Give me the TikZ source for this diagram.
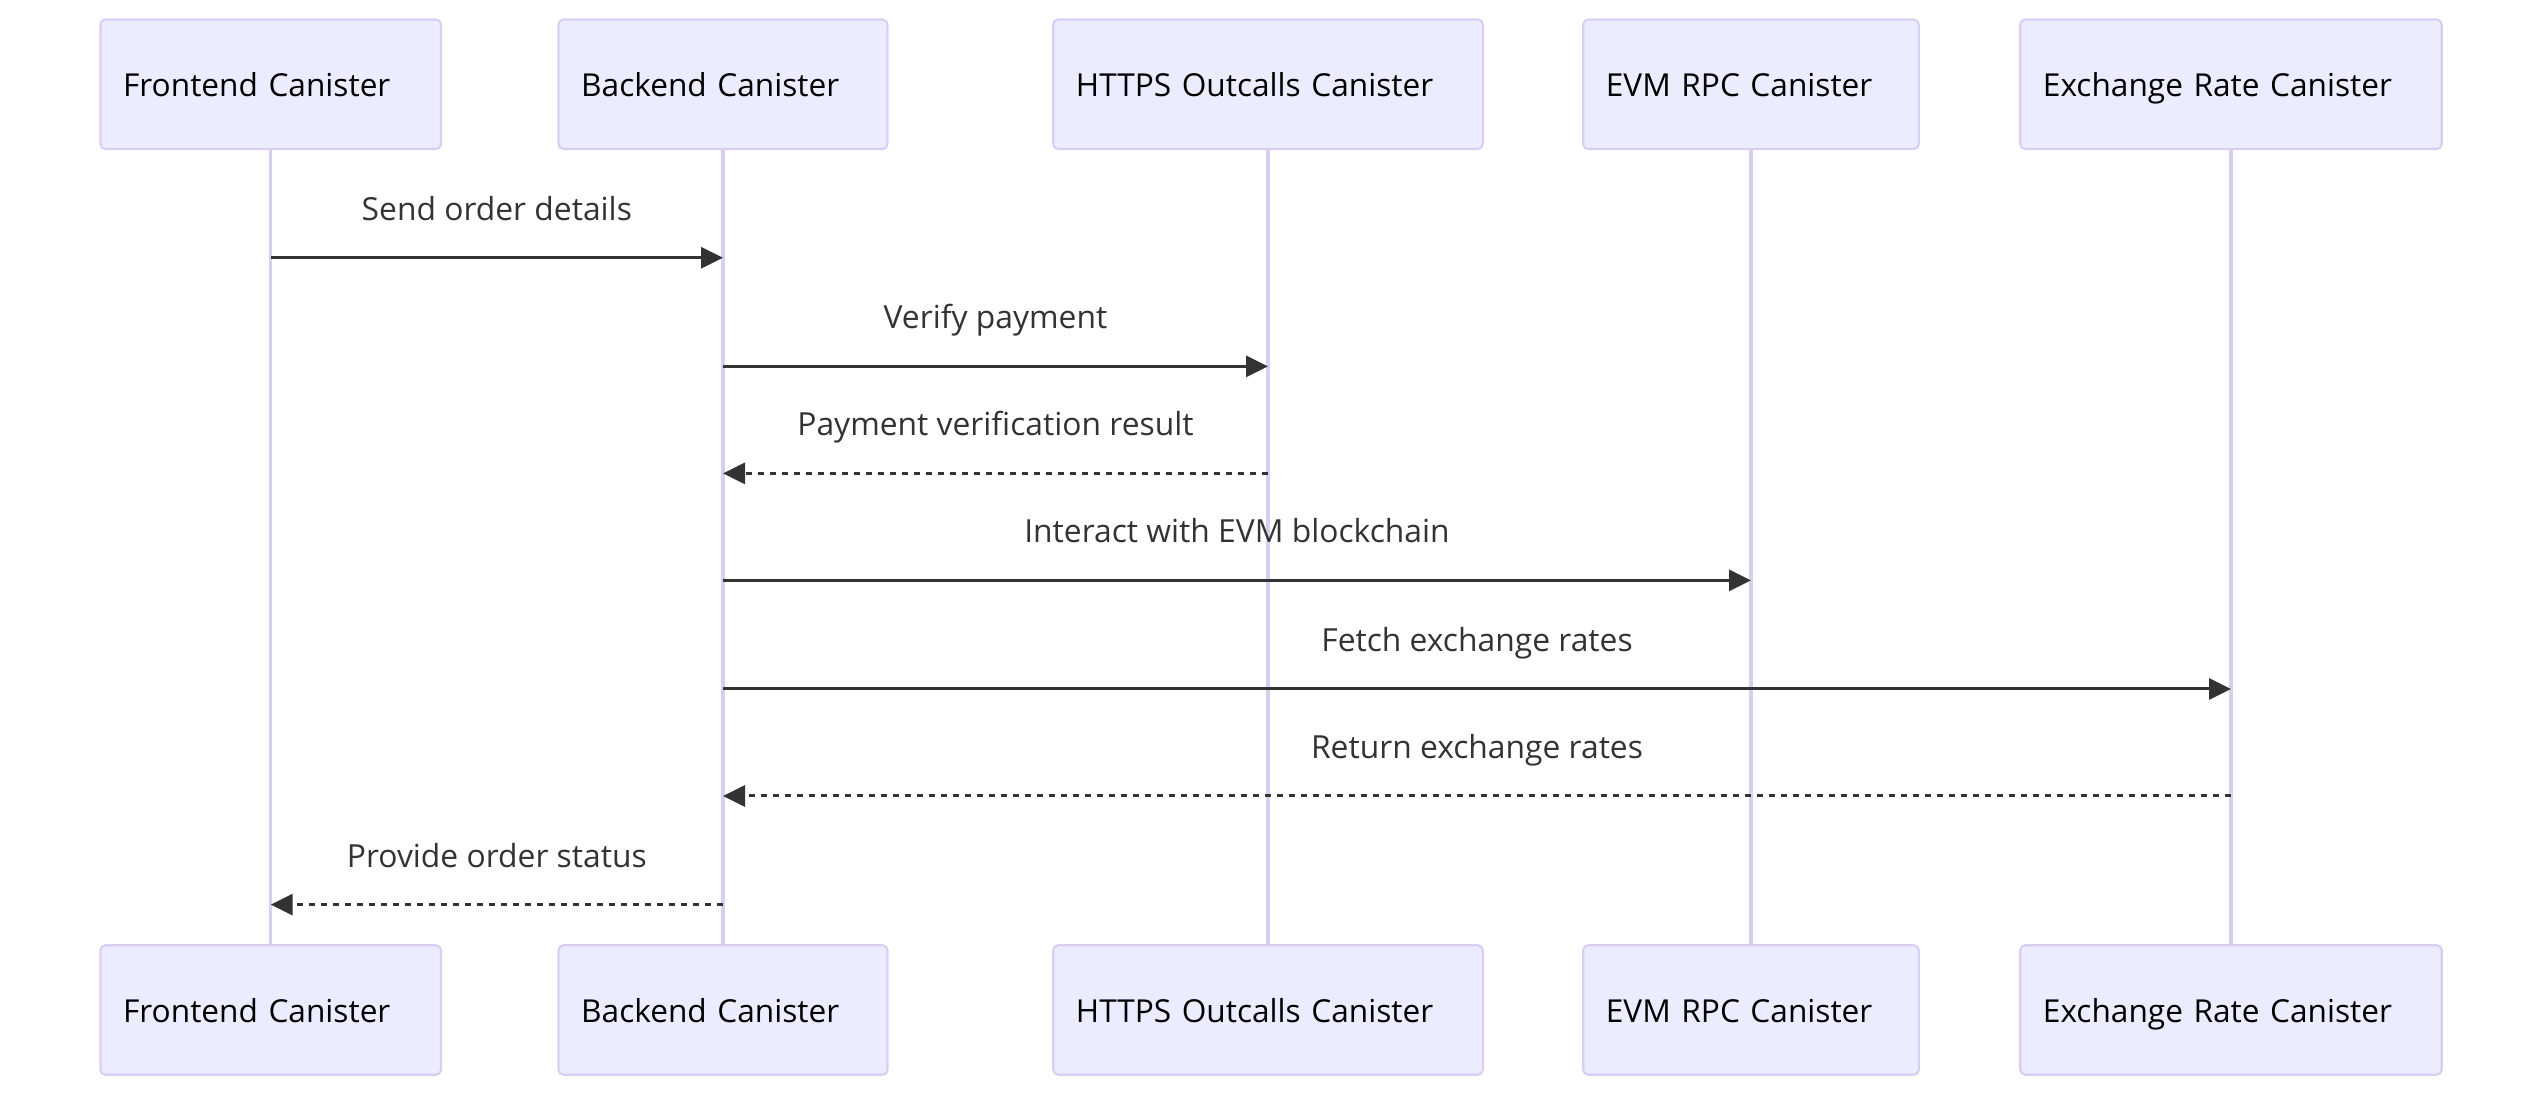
\documentclass[tikz,border=0pt]{standalone}
\usepackage{fontspec}
\setmainfont{Open Sans}
\usepackage{xcolor}
\usepackage{tikz}
\usetikzlibrary{arrows.meta}
\usetikzlibrary{positioning,calc}

\definecolor{actfill}{HTML}{ECECFF}
\definecolor{actline}{HTML}{D9CEF2}
\definecolor{msgcol}{HTML}{333333}

\begin{document}
\begin{tikzpicture}[
		actor/.style={draw=actline, fill=actfill, line width=0.6pt, rounded corners=0.05cm,
			minimum height=1.295cm, inner xsep=0.227cm, text width=#1, align=left,
			text height=0.25cm, text depth=0cm, font=\fontsize{9pt}{10pt}\selectfont},
		lifeline/.style={draw=actline, line width=1pt},
		msg/.style={draw=msgcol, line width=0.85pt, -{Triangle[length=0.22cm,width=0.21cm]}},
		reply/.style={msg, dash pattern=on 0.065cm off 0.055cm},
		msglabel/.style={midway, anchor=base, yshift=0.374cm, text=msgcol,
			font=\fontsize{9.05pt}{10pt}\selectfont}
	]
	\useasboundingbox (0,0) rectangle (25.42,-10.98);
	
	% participants, top and bottom
	\node[actor=2.951cm] (fe) at (2.707,-0.843) {Frontend Canister};
	\node[actor=2.836cm] (be) at (7.23,-0.843) {Backend Canister};
	\node[actor=3.842cm] (https) at (12.68,-0.843) {HTTPS Outcalls Canister};
	\node[actor=2.902cm] (evm) at (17.51,-0.843) {EVM RPC Canister};
	\node[actor=3.761cm] (xr) at (22.31,-0.843) {Exchange Rate Canister};
	
	\node[actor=2.951cm] (fe2) at (2.707,-10.10) {Frontend Canister};
	\node[actor=2.836cm] (be2) at (7.23,-10.10) {Backend Canister};
	\node[actor=3.842cm] (https2) at (12.68,-10.10) {HTTPS Outcalls Canister};
	\node[actor=2.902cm] (evm2) at (17.51,-10.10) {EVM RPC Canister};
	\node[actor=3.761cm] (xr2) at (22.31,-10.10) {Exchange Rate Canister};
	
	\foreach \p in {fe,be,https,evm,xr}
		\draw[lifeline] (\p) -- (\p2);
	
	% message rows
	\foreach \i/\y in {1/2.578,2/3.664,3/4.734,4/5.804,5/6.89,6/7.96,7/9.046}
		\coordinate (r\i) at (0,-\y);
	
	\draw[msg] (fe |- r1) -- (be |- r1) node[msglabel]{Send order details};
	\draw[msg] (be |- r2) -- (https |- r2) node[msglabel]{Verify payment};
	\draw[reply] (https |- r3) -- (be |- r3) node[msglabel]{Payment verification result};
	\draw[msg] (be |- r4) -- (evm |- r4) node[msglabel]{Interact with EVM blockchain};
	\draw[msg] (be |- r5) -- (xr |- r5) node[msglabel]{Fetch exchange rates};
	\draw[reply] (xr |- r6) -- (be |- r6) node[msglabel]{Return exchange rates};
	\draw[reply] (be |- r7) -- (fe |- r7) node[msglabel]{Provide order status};
\end{tikzpicture}
\end{document}
